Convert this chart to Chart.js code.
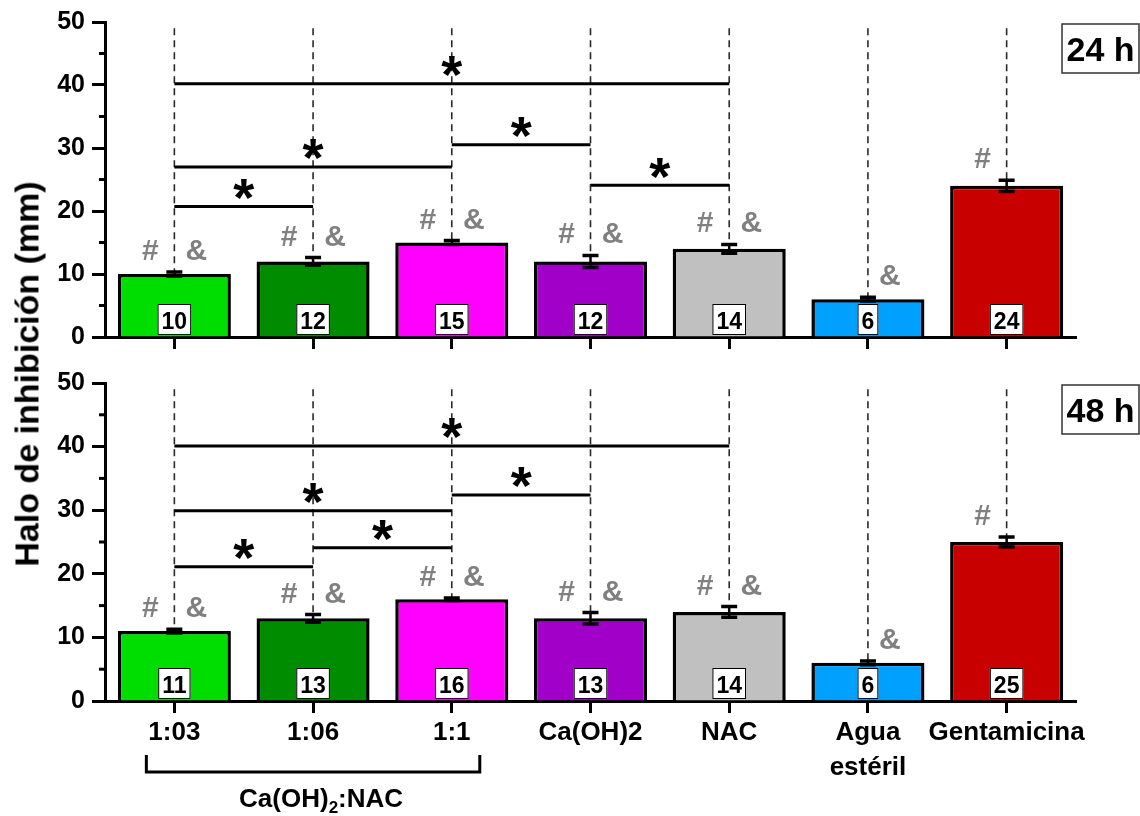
<!DOCTYPE html>
<html>
<head>
<meta charset="utf-8">
<script src="https://cdn.jsdelivr.net/npm/chart.js@4.4.1/dist/chart.umd.min.js"></script>
<style>
    body { margin: 0; background: #fff; width: 1140px; height: 816px; position: relative; overflow: hidden; font-family: "Liberation Sans", Arial, sans-serif; }
    #chart24 { position: absolute; left: 0; top: 0; }
    #chart48 { position: absolute; left: 0; top: 360px; }
    #ytitle { position: absolute; left: 27px; top: 374px; transform: translate(-50%, -50%) rotate(-90deg); font-weight: bold; font-size: 34px; white-space: nowrap; color: #000; }
</style>
</head>
<body>
<canvas id="chart24" width="1140" height="360"></canvas>
<canvas id="chart48" width="1140" height="456"></canvas>
<div id="ytitle">Halo de inhibición (mm)</div>
<script>
var categories = ['1:03', '1:06', '1:1', 'Ca(OH)2', 'NAC', ['Agua', 'estéril'], 'Gentamicina'];
var barColors = ['#00DD00', '#008C00', '#FF00FF', '#A000C8', '#C0C0C0', '#00A0FF', '#C80000'];
var yTicks = [0, 10, 20, 30, 40, 50];

var values24 = [10, 12, 15, 12, 14, 6, 24];
var errors24 = [0.3, 0.6, 0.3, 0.95, 0.7, 0.3, 0.9];
var marks24 = ['#&', '#&', '#&', '#&', '#&', '&', '#'];
// [from, to, height]
var brackets24 = [[0, 4, 40.2], [0, 2, 27], [0, 1, 20.7], [2, 3, 30.5], [3, 4, 24.1]];

var values48 = [11, 13, 16, 13, 14, 6, 25];
var errors48 = [0.3, 0.6, 0.2, 0.9, 0.85, 0.3, 0.8];
var marks48 = ['#&', '#&', '#&', '#&', '#&', '&', '#'];
var brackets48 = [[0, 4, 40.1], [0, 2, 29.9], [0, 1, 21.1], [1, 2, 24.1], [2, 3, 32.4]];

var FONT = '"Liberation Sans", Arial, sans-serif';

function textCenteredAt(ctx, txt, cx, cy) {
    var m = ctx.measureText(txt);
    ctx.textAlign = 'center';
    ctx.textBaseline = 'alphabetic';
    ctx.fillText(txt, cx, cy + (m.actualBoundingBoxAscent - m.actualBoundingBoxDescent) / 2);
}

function overlayPlugin(values, errors, marks, brackets, timeLabel, groupBracket) {
    return {
        id: 'overlay',
        afterDatasetsDraw: function (chart) {
            var ctx = chart.ctx;
            var x = chart.scales.x;
            var y = chart.scales.y;
            var area = chart.chartArea;
            ctx.save();

            // minor ticks on y axis
            ctx.strokeStyle = '#000';
            ctx.lineWidth = 3;
            for (var v = 5; v < 50; v += 10) {
                var py = y.getPixelForValue(v);
                ctx.beginPath();
                ctx.moveTo(area.left - 6, py);
                ctx.lineTo(area.left, py);
                ctx.stroke();
            }

            values.forEach(function (val, i) {
                var cx = x.getPixelForValue(i);
                var top = y.getPixelForValue(val + errors[i]);
                var bot = y.getPixelForValue(val - errors[i]);

                // dashed guide line
                ctx.save();
                ctx.setLineDash([7, 5]);
                ctx.lineWidth = 1.6;
                ctx.strokeStyle = '#2a2a2a';
                ctx.beginPath();
                ctx.moveTo(cx, y.getPixelForValue(49));
                ctx.lineTo(cx, top);
                ctx.stroke();
                ctx.restore();

                // error bar
                ctx.strokeStyle = '#000';
                ctx.lineWidth = 2.5;
                ctx.beginPath();
                ctx.moveTo(cx, top);
                ctx.lineTo(cx, bot);
                ctx.stroke();
                ctx.lineWidth = 3.5;
                ctx.beginPath();
                ctx.moveTo(cx - 8, top); ctx.lineTo(cx + 8, top);
                ctx.moveTo(cx - 8, bot); ctx.lineTo(cx + 8, bot);
                ctx.stroke();

                // # and & marks
                ctx.fillStyle = '#808080';
                ctx.font = 'bold 30px ' + FONT;
                if (marks[i].indexOf('#') >= 0) textCenteredAt(ctx, '#', cx - 24, top - 22);
                if (marks[i].indexOf('&') >= 0) textCenteredAt(ctx, '&', cx + 22, top - 22);

                // value box
                ctx.font = 'bold 23px ' + FONT;
                var label = String(val);
                var w = ctx.measureText(label).width + 8;
                var bx = cx - w / 2, by = area.bottom - 33;
                ctx.fillStyle = '#fff';
                ctx.fillRect(bx, by, w, 31);
                ctx.strokeStyle = '#000';
                ctx.lineWidth = 1;
                ctx.strokeRect(bx + 0.5, by + 0.5, w - 1, 30);
                ctx.fillStyle = '#000';
                textCenteredAt(ctx, label, cx, by + 16);
            });

            // significance brackets
            ctx.strokeStyle = '#000';
            ctx.fillStyle = '#000';
            brackets.forEach(function (b) {
                var x1 = x.getPixelForValue(b[0]);
                var x2 = x.getPixelForValue(b[1]);
                var py = y.getPixelForValue(b[2]);
                ctx.lineWidth = 3;
                ctx.beginPath();
                ctx.moveTo(x1, py);
                ctx.lineTo(x2, py);
                ctx.stroke();
                ctx.font = 'bold 54px ' + FONT;
                textCenteredAt(ctx, '*', (x1 + x2) / 2, py - 17);
            });

            // time label box
            var tw = 77, th = 49;
            var tx = chart.width - tw - 1, ty = area.top + 2;
            ctx.lineWidth = 1.5;
            ctx.strokeStyle = '#333';
            ctx.fillStyle = '#fff';
            ctx.fillRect(tx, ty, tw, th);
            ctx.strokeRect(tx, ty, tw, th);
            ctx.fillStyle = '#000';
            ctx.font = 'bold 34px ' + FONT;
            textCenteredAt(ctx, timeLabel, tx + tw / 2, ty + th / 2);

            // group bracket under the x labels
            if (groupBracket) {
                var gx1 = x.getPixelForValue(0) - 28;
                var gx2 = x.getPixelForValue(2) + 28;
                var gy1 = area.bottom + 54, gy2 = area.bottom + 71;
                ctx.strokeStyle = '#000';
                ctx.lineWidth = 3;
                ctx.beginPath();
                ctx.moveTo(gx1, gy1);
                ctx.lineTo(gx1, gy2);
                ctx.lineTo(gx2, gy2);
                ctx.lineTo(gx2, gy1);
                ctx.stroke();

                var big = 'bold 26px ' + FONT, small = 'bold 17px ' + FONT;
                ctx.font = big;
                var wa = ctx.measureText('Ca(OH)').width;
                var wc = ctx.measureText(':NAC').width;
                ctx.font = small;
                var wb = ctx.measureText('2').width;
                var start = x.getPixelForValue(1) + 8 - (wa + wb + wc) / 2;
                var base = area.bottom + 106;
                ctx.fillStyle = '#000';
                ctx.textAlign = 'left';
                ctx.textBaseline = 'alphabetic';
                ctx.font = big;
                ctx.fillText('Ca(OH)', start, base);
                ctx.font = small;
                ctx.fillText('2', start + wa, base + 6);
                ctx.font = big;
                ctx.fillText(':NAC', start + wa + wb, base);
            }
            ctx.restore();
        }
    };
}

function makeChart(canvasId, values, errors, marks, brackets, timeLabel, showLabels) {
    var canvas = document.getElementById(canvasId);
    var ctx = canvas.getContext('2d');
    var xHeight = showLabels ? 115 : 23;
    return new Chart(ctx, {
        type: 'bar',
        data: {
            labels: categories,
            datasets: [{
                data: values,
                backgroundColor: barColors,
                borderColor: '#000',
                borderWidth: 3.5,
                categoryPercentage: 1.0,
                barPercentage: 0.815
            }]
        },
        options: {
            responsive: false,
            animation: false,
            layout: { padding: { top: showLabels ? 23 : 20, right: 64, left: 0, bottom: 0 } },
            plugins: { legend: { display: false }, tooltip: { enabled: false } },
            scales: {
                x: {
                    offset: true,
                    grid: { display: true, drawOnChartArea: false, offset: false, tickLength: 12, tickWidth: 3, color: '#000' },
                    border: { display: true, width: 3, color: '#000' },
                    ticks: {
                        display: showLabels,
                        autoSkip: false,
                        maxRotation: 0,
                        minRotation: 0,
                        padding: 2,
                        color: '#000',
                        font: { family: FONT, size: 26, weight: 'bold', lineHeight: 1.35 }
                    },
                    afterFit: function (scale) { scale.height = xHeight; }
                },
                y: {
                    min: 0,
                    max: 50,
                    afterBuildTicks: function (scale) {
                        scale.ticks = yTicks.map(function (t) { return { value: t }; });
                    },
                    grid: { display: true, drawOnChartArea: false, tickLength: 13, tickWidth: 3, color: '#000' },
                    border: { display: true, width: 3, color: '#000' },
                    ticks: {
                        padding: 7,
                        color: '#000',
                        font: { family: FONT, size: 25, weight: 'bold' }
                    },
                    afterFit: function (scale) { scale.width = 105; }
                }
            }
        },
        plugins: [overlayPlugin(values, errors, marks, brackets, timeLabel, showLabels)]
    });
}

makeChart('chart24', values24, errors24, marks24, brackets24, '24 h', false);
makeChart('chart48', values48, errors48, marks48, brackets48, '48 h', true);
</script>
</body>
</html>
